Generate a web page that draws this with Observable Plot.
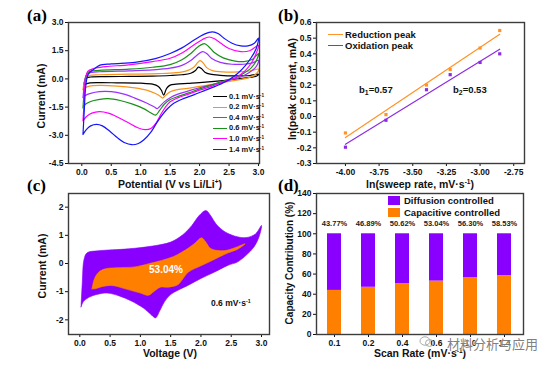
<!DOCTYPE html>
<html><head><meta charset="utf-8">
<script src="https://cdn.jsdelivr.net/npm/d3@7"></script>
<script src="https://cdn.jsdelivr.net/npm/@observablehq/plot@0.6"></script>
<style>
body{margin:0;background:#fff}
#root{position:relative;width:556px;height:370px;overflow:hidden;background:#fff;font-family:'Liberation Sans',Arial,sans-serif}
.t{position:absolute;font-weight:bold;white-space:nowrap;color:#111;line-height:1}
.cc{transform:translate(-50%,-50%)}
.rot{transform:translate(-50%,-50%) rotate(-90deg)}
.vm{transform:translateY(-50%)}
.L{font-family:'Liberation Serif','Times New Roman',serif;font-size:17px;color:#000}
sup{font-size:62%;line-height:0;vertical-align:0.55em}
sub{font-size:72%;line-height:0;vertical-align:-0.3em}
.sw{position:absolute;height:0}
.box{position:absolute}
</style></head><body><div id="root"></div>
<script>
// ---------- data ----------
const rates = ["0.1","0.2","0.4","0.6","1.0","1.4"];

// (a) CV loops [potential V, current mA]
const cv01 = [[0.03,-0.38],[0.05,-0.1],[0.08,0.05],[0.15,0.1],[0.4,0.12],[0.8,0.13],[1.2,0.15],[1.5,0.18],[1.7,0.22],[1.85,0.3],[1.93,0.45],[1.98,0.63],[2.03,0.55],[2.09,0.36],[2.18,0.25],[2.35,0.19],[2.6,0.16],[2.85,0.18],[3.0,0.25],
  [2.97,0.15],[2.85,0.08],[2.6,-0.02],[2.3,-0.12],[2.0,-0.2],[1.8,-0.24],[1.6,-0.28],[1.5,-0.33],[1.44,-0.5],[1.39,-0.86],[1.35,-0.6],[1.3,-0.4],[1.2,-0.28],[1.0,-0.23],[0.6,-0.21],[0.3,-0.2],[0.12,-0.22],[0.06,-0.28],[0.03,-0.38]];
const cv02 = [[0.02,-0.58],[0.04,-0.2],[0.07,0.08],[0.12,0.18],[0.3,0.22],[0.8,0.25],[1.3,0.28],[1.6,0.33],[1.78,0.43],[1.9,0.62],[1.97,0.88],[2.01,0.97],[2.06,0.85],[2.12,0.6],[2.22,0.44],[2.4,0.37],[2.65,0.37],[2.85,0.42],[3.0,0.52],
  [2.97,0.3],[2.85,0.08],[2.6,-0.08],[2.3,-0.25],[2.0,-0.4],[1.8,-0.5],[1.6,-0.58],[1.5,-0.68],[1.45,-0.8],[1.4,-0.95],[1.37,-1.02],[1.33,-0.92],[1.25,-0.78],[1.1,-0.6],[0.9,-0.48],[0.6,-0.38],[0.3,-0.34],[0.13,-0.38],[0.06,-0.46],[0.02,-0.58]];
const cv04 = [[0.02,-1.0],[0.04,-0.4],[0.07,0.15],[0.12,0.3],[0.3,0.38],[0.8,0.43],[1.2,0.48],[1.5,0.57],[1.7,0.72],[1.85,0.98],[1.95,1.25],[2.05,1.45],[2.12,1.35],[2.2,1.1],[2.35,0.88],[2.55,0.78],[2.75,0.78],[2.9,0.85],[3.0,0.99],
  [2.96,0.65],[2.85,0.35],[2.7,0.1],[2.5,-0.07],[2.25,-0.28],[2.0,-0.47],[1.8,-0.65],[1.62,-0.82],[1.5,-1.0],[1.4,-1.22],[1.32,-1.48],[1.28,-1.58],[1.22,-1.47],[1.1,-1.28],[0.9,-1.02],[0.7,-0.8],[0.5,-0.68],[0.3,-0.68],[0.15,-0.77],[0.06,-0.88],[0.02,-1.0]];
const cv06 = [[0.02,-1.54],[0.04,-0.7],[0.07,0.15],[0.12,0.38],[0.3,0.45],[0.8,0.52],[1.2,0.62],[1.5,0.76],[1.7,1.02],[1.85,1.35],[1.97,1.7],[2.08,1.88],[2.16,1.7],[2.25,1.4],[2.4,1.12],[2.6,0.95],[2.75,0.92],[2.9,1.05],[3.0,1.35],
  [2.96,0.95],[2.88,0.6],[2.75,0.3],[2.6,0.05],[2.45,-0.06],[2.2,-0.33],[2.0,-0.53],[1.8,-0.76],[1.62,-0.95],[1.5,-1.1],[1.4,-1.35],[1.32,-1.68],[1.25,-1.93],[1.17,-1.8],[1.05,-1.58],[0.85,-1.33],[0.65,-1.15],[0.45,-1.05],[0.28,-1.1],[0.15,-1.2],[0.06,-1.35],[0.02,-1.54]];
const cv10 = [[0.02,-2.23],[0.04,-1.2],[0.06,0.0],[0.1,0.4],[0.2,0.55],[0.4,0.65],[0.8,0.75],[1.2,0.92],[1.5,1.1],[1.7,1.38],[1.9,1.8],[2.05,2.1],[2.16,2.23],[2.26,2.12],[2.36,1.9],[2.5,1.62],[2.7,1.45],[2.85,1.5],[3.0,1.79],
  [2.96,1.35],[2.9,0.95],[2.78,0.45],[2.6,0.05],[2.45,-0.1],[2.2,-0.4],[2.0,-0.6],[1.8,-0.82],[1.62,-1.02],[1.5,-1.22],[1.42,-1.5],[1.34,-1.9],[1.26,-2.35],[1.18,-2.62],[1.08,-2.7],[0.95,-2.6],[0.8,-2.35],[0.62,-2.05],[0.45,-1.82],[0.3,-1.74],[0.17,-1.82],[0.08,-2.0],[0.02,-2.23]];
const cv14 = [[0.02,-2.95],[0.04,-1.8],[0.07,-0.3],[0.11,0.25],[0.2,0.5],[0.3,0.72],[0.5,0.8],[0.9,0.88],[1.25,1.08],[1.5,1.35],[1.7,1.65],[1.9,2.05],[2.08,2.38],[2.22,2.5],[2.32,2.4],[2.42,2.15],[2.55,1.9],[2.7,1.76],[2.82,1.76],[2.93,1.9],[3.0,2.17],
  [2.96,1.6],[2.88,1.15],[2.78,0.72],[2.65,0.3],[2.5,-0.04],[2.3,-0.35],[2.1,-0.6],[1.9,-0.85],[1.7,-1.08],[1.55,-1.32],[1.45,-1.6],[1.37,-1.9],[1.28,-2.3],[1.18,-2.8],[1.05,-3.25],[0.95,-3.45],[0.85,-3.5],[0.72,-3.38],[0.6,-3.12],[0.48,-2.8],[0.35,-2.5],[0.25,-2.42],[0.15,-2.5],[0.08,-2.68],[0.02,-2.95]];

// (b) log of sweep rate and peak currents
const lnRate = [-4.000,-3.699,-3.398,-3.222,-3.000,-2.854];
const lnRedPeak = [-0.105,0.012,0.201,0.300,0.437,0.549];
const lnOxPeak = [-0.196,-0.024,0.171,0.267,0.345,0.400];

// (c) capacitive share of the 0.6 mV/s CV
const cap06 = [[0.2,-0.9],[0.24,-0.55],[0.31,-0.31],[0.42,-0.19],[0.6,-0.15],[0.91,-0.12],[1.15,0.0],[1.35,0.11],[1.55,0.25],[1.68,0.4],[1.8,0.56],[1.9,0.72],[2.01,0.91],[2.08,0.76],[2.15,0.55],[2.25,0.47],[2.4,0.46],[2.56,0.56],[2.73,0.7],
  [2.6,0.5],[2.45,0.38],[2.29,0.22],[2.15,0.07],[2.01,-0.07],[1.79,-0.31],[1.7,-0.55],[1.62,-0.75],[1.46,-0.84],[1.33,-0.84],[1.22,-1.0],[1.13,-1.13],[1.0,-1.05],[0.75,-0.9],[0.53,-0.78],[0.35,-0.83],[0.25,-0.9],[0.2,-0.9]];

// (d) capacitive contribution (%)
const capPct = [43.77,46.89,50.62,53.04,56.30,58.53];
const totalPct = 100;

// tick labels
const ticksAx = [0,0.5,1,1.5,2,2.5,3];
const ticksAy = [-4.5,-3,-1.5,0,1.5,3];
const ticksBx = [-4,-3.75,-3.5,-3.25,-3,-2.75];
const ticksBy = [-0.3,-0.2,-0.1,0,0.1,0.2,0.3,0.4,0.5,0.6];
const ticksCx = [0,0.5,1,1.5,2,2.5,3];
const ticksCy = [-2,-1,0,1,2];
const ticksDy = [0,20,40,60,80,100,120,140];

// ---------- styles ----------
const cvColors = ["#000000","#f7941d","#9b30ff","#1a8f1a","#ff00ff","#1414ff"];
const ORANGE = "#ff9326", VIOLET = "#8c2be6";
const FILLV = "#8a00ff", FILLO = "#ff8000";

const root = document.getElementById("root");
function place(svg, left, top){ svg.style.position="absolute"; svg.style.left=left+"px"; svg.style.top=top+"px"; root.appendChild(svg); }
function html(s){ root.insertAdjacentHTML("beforeend", s); }
const st = {fontFamily:"'Liberation Sans',Arial,sans-serif",fontWeight:"bold",fontSize:"8.5px",background:"transparent",color:"#111",overflow:"visible"};
const frame = () => Plot.frame({stroke:"#3c3c3c",strokeWidth:1.4});
const ax = (o) => Object.assign({tickSize:3,tickPadding:2,label:null}, o);

// (a)
const cvRows = [cv01,cv02,cv04,cv06,cv10,cv14].flatMap((loop,k)=>loop.map(([v,i])=>({rate:rates[k],v,i})));
place(Plot.plot({width:278,height:190,marginLeft:68,marginRight:19,marginTop:22,marginBottom:27,style:st,
  x:ax({domain:[-0.226,3.017],ticks:ticksAx,tickFormat:d=>d.toFixed(1)}),
  y:ax({domain:[-4.5,3],ticks:ticksAy,tickFormat:d=>d.toFixed(1)}),
  color:{domain:rates,range:cvColors},
  marks:[Plot.line(cvRows,{x:"v",y:"i",z:"rate",stroke:"rate",strokeWidth:1.2,curve:"catmull-rom"}),frame()]}),0,0);

// (b)
const redRows = lnRate.map((x,k)=>({x,y:lnRedPeak[k]}));
const oxRows = lnRate.map((x,k)=>({x,y:lnOxPeak[k]}));
place(Plot.plot({width:280,height:190,marginLeft:40,marginRight:32,marginTop:22,marginBottom:27,style:st,
  x:ax({domain:[-4.215,-2.67],ticks:ticksBx,tickFormat:d=>d.toFixed(2)}),
  y:ax({domain:[-0.3,0.6],ticks:ticksBy,tickFormat:d=>d.toFixed(1)}),
  marks:[
    Plot.linearRegressionY(redRows,{x:"x",y:"y",stroke:ORANGE,strokeWidth:1.2,ci:0}),
    Plot.linearRegressionY(oxRows,{x:"x",y:"y",stroke:VIOLET,strokeWidth:1.2,ci:0}),
    Plot.dot(redRows,{x:"x",y:"y",fill:ORANGE,r:1.8,symbol:"square"}),
    Plot.dot(oxRows,{x:"x",y:"y",fill:VIOLET,r:1.8,symbol:"square"}),
    frame()]}),276,0);

// (c)
place(Plot.plot({width:278,height:190,marginLeft:68,marginRight:9,marginTop:13,marginBottom:36,style:st,
  x:ax({domain:[-0.187,3.132],ticks:ticksCx,tickFormat:d=>d.toFixed(1)}),
  y:ax({domain:[-2.52,2.485],ticks:ticksCy,tickFormat:d=>String(d)}),
  marks:[
    Plot.line(cv06,{x:d=>d[0],y:d=>d[1],fill:FILLV,stroke:FILLV,strokeWidth:0.6,curve:"catmull-rom"}),
    Plot.line(cap06,{x:d=>d[0],y:d=>d[1],fill:FILLO,stroke:FILLO,strokeWidth:0.6,curve:"catmull-rom"}),
    frame()]}),0,180);

// (d)
const capRows = rates.map((rate,k)=>({rate,cap:capPct[k]}));
place(Plot.plot({width:280,height:190,marginLeft:40,marginRight:33,marginTop:13,marginBottom:36,style:st,
  x:ax({domain:rates,paddingInner:0.58,paddingOuter:0.31}),
  y:ax({domain:[0,140],ticks:ticksDy}),
  marks:[
    Plot.barY(capRows,{x:"rate",y1:0,y2:"cap",fill:FILLO}),
    Plot.barY(capRows,{x:"rate",y1:"cap",y2:totalPct,fill:FILLV}),
    Plot.text(capRows,{x:"rate",y:110,text:d=>d.cap.toFixed(2)+"%",fontSize:7.5,fill:"#222"}),
    frame()]}),276,180);

// ---------- text overlays ----------
html(`<div class="t L" style="left:27px;top:7px">(a)</div>
<div class="t L" style="left:278px;top:7px">(b)</div>
<div class="t L" style="left:27px;top:177px">(c)</div>
<div class="t L" style="left:278px;top:177px">(d)</div>
<div class="t rot" style="left:41px;top:96px;font-size:10.5px">Current (mA)</div>
<div class="t cc" style="left:170px;top:184px;font-size:10.5px">Potential (V vs Li/Li<sup>+</sup>)</div>
<div class="t rot" style="left:292px;top:89px;font-size:10.5px">ln(peak current, mA)</div>
<div class="t cc" style="left:420px;top:184px;font-size:10.5px">ln(sweep rate, mV·s<sup>-1</sup>)</div>
<div class="t rot" style="left:42px;top:266px;font-size:10.5px">Current (mA)</div>
<div class="t cc" style="left:170px;top:353px;font-size:10.5px">Voltage (V)</div>
<div class="t rot" style="left:290px;top:263px;font-size:10px">Capacity Contribution (%)</div>
<div class="t cc" style="left:420px;top:353px;font-size:10.5px">Scan Rate (mV·s<sup>-1</sup>)</div>
<div class="t vm" style="left:359px;top:90px;font-size:9.5px">b<sub>1</sub>=0.57</div>
<div class="t vm" style="left:453px;top:90px;font-size:9.5px">b<sub>2</sub>=0.53</div>
<div class="sw" style="left:328px;top:34px;width:15px;border-top:1.5px solid ${ORANGE}"></div>
<div class="t vm" style="left:345px;top:34.5px;font-size:9.5px">Reduction peak</div>
<div class="sw" style="left:328px;top:45px;width:15px;border-top:1.5px solid ${VIOLET}"></div>
<div class="t vm" style="left:345px;top:45.5px;font-size:9.5px">Oxidation peak</div>
<div class="t cc" style="left:166px;top:270px;font-size:10px;color:#fff">53.04%</div>
<div class="t vm" style="left:211px;top:303px;font-size:8.5px">0.6 mV·s<sup>-1</sup></div>
<div class="box" style="left:388px;top:196px;width:12px;height:9px;background:${FILLV}"></div>
<div class="t vm" style="left:404px;top:201px;font-size:9.5px">Diffusion controlled</div>
<div class="box" style="left:388px;top:208px;width:12px;height:9px;background:${FILLO}"></div>
<div class="t vm" style="left:404px;top:213px;font-size:9.5px">Capacitive controlled</div>`);
rates.forEach((r,k)=>{
  const y = 96 + k*10.6;
  html(`<div class="sw" style="left:213px;top:${y}px;width:14px;border-top:1.3px solid ${cvColors[k]}"></div>
  <div class="t vm" style="left:229px;top:${y+0.5}px;font-size:7.5px">${r} mV·s<sup>-1</sup></div>`);
});
html(`<svg style="position:absolute;left:419px;top:335px" width="16" height="13"><ellipse cx="6" cy="6" rx="5" ry="4.2" fill="none" stroke="#aaa" stroke-width="1"/><ellipse cx="10.5" cy="8" rx="4" ry="3.4" fill="none" stroke="#aaa" stroke-width="1"/></svg>
<div class="t vm" style="left:447px;top:343px;font-size:13px;font-weight:normal;color:rgba(110,110,110,0.9);font-family:'Noto Sans CJK SC',sans-serif;text-shadow:0 0 2px #fff,0 0 2px #fff">材料分析与应用</div>`);
</script></body></html>
